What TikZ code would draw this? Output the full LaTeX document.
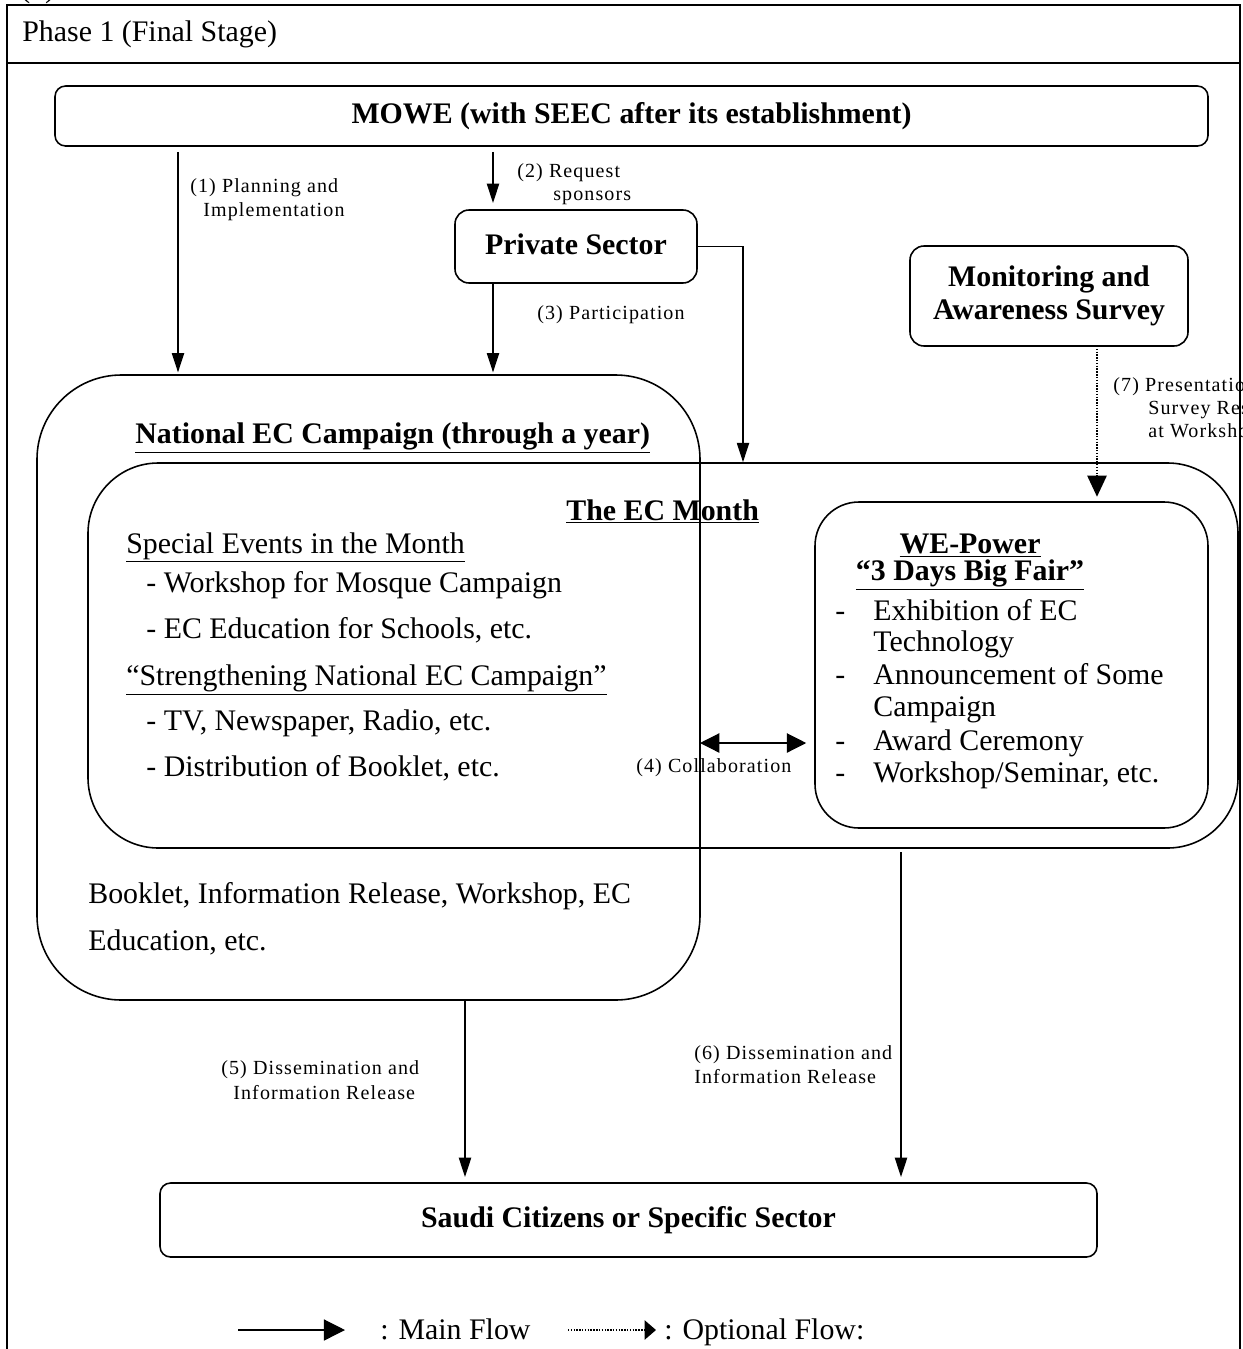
\documentclass[tikz,border=0pt]{standalone}
\usepackage{fontspec}
\setmainfont{Liberation Serif}
\newfontfamily\lblfont[LetterSpace=5.5]{Liberation Serif}
\usetikzlibrary{arrows.meta,fit}

\begin{document}
\begin{tikzpicture}[x=0.02cm,y=-0.02cm,
  txt/.style={anchor=base west,inner sep=0pt,font=\fontsize{17}{20}\selectfont},
  ttl/.style={anchor=base west,inner sep=0pt,font=\fontsize{17}{20}\selectfont\bfseries},
  lbl/.style={anchor=base west,inner sep=0pt,font=\lblfont\fontsize{11.4}{13}\selectfont},
  box/.style={draw,line width=0.9pt,inner sep=0pt,outer sep=0pt},
  boxtxt/.style={inner sep=0pt,font=\fontsize{17}{19}\selectfont\bfseries,align=center},
  flow/.style={line width=0.7pt,-{Triangle[length=11pt,width=7pt]}},
  twoway/.style={line width=0.7pt,{Triangle[length=11pt,width=11pt]}-{Triangle[length=11pt,width=11pt]}},
  dotline/.style={line width=0.9pt,dash pattern=on 0.8pt off 0.8pt},
  optflow/.style={dotline,-{Triangle[length=12pt,width=11pt]}},
  frameline/.style={line width=1.2pt}
]
\useasboundingbox (0,0) rectangle (1243,1349);
\clip (0,0) rectangle (1243,1349);

% page frame and header row
\node[txt] (prevnum) at (20,-3) {(3)};
\draw[frameline] (7,1400) -- (7,5) -- (1240,5) -- (1240,1400);
\draw[frameline] (7,63) -- (1240,63);
\node[txt] (phase) at (22,41) {Phase 1 (Final Stage)};

% main boxes
\node[box,rounded corners=6pt,fit={(55,86)(1208,146)}] (mowe) {};
\node[boxtxt] (mowet) at (mowe.center) {MOWE (with SEEC after its establishment)};
\node[box,rounded corners=8pt,fit={(455,210)(697,283)}] (ps) {};
\node[boxtxt] (pst) at ([yshift=1.5pt]ps.center) {Private Sector};
\node[box,rounded corners=8pt,fit={(910,246)(1188,346)}] (mon) {};
\node[boxtxt] (mont) at (mon.center) {Monitoring and\\Awareness Survey};
\node[box,rounded corners=48pt,fit={(37,375)(700,1000)}] (natl) {};
\node[box,rounded corners=40pt,fit={(88,463)(1238,848)}] (ecm) {};
\node[box,rounded corners=25pt,fit={(815,502)(1208,828)}] (we) {};
\node[box,rounded corners=6pt,fit={(160,1183)(1097,1257)}] (saudi) {};
\node[boxtxt] (saudit) at (saudi.center) {Saudi Citizens or Specific Sector};

% national campaign contents
\node[ttl] (natlt) at (135,443) {\underline{National EC Campaign (through a year)}};
\node[txt] (yr1) at (88,903) {Booklet, Information Release, Workshop, EC};
\node[txt] (yr2) at (88,950) {Education, etc.};

% EC month contents
\node[ttl] (ecmt) at (566,520) {\underline{The EC Month}};
\node[txt] (sp) at (126,553) {\underline{Special Events in the Month}};
\node[txt] (sp1) at (146,592) {- Workshop for Mosque Campaign};
\node[txt] (sp2) at (146,638) {- EC Education for Schools, etc.};
\node[txt] (st) at (126,685) {\underline{“Strengthening National EC Campaign”}};
\node[txt] (st1) at (146,730) {- TV, Newspaper, Radio, etc.};
\node[txt] (st2) at (146,776) {- Distribution of Booklet, etc.};

% WE-Power fair contents
\node[ttl,anchor=base] (wet1) at (970,553) {\underline{WE-Power}};
\node[ttl,anchor=base] (wet2) at (970,580) {\underline{“3 Days Big Fair”}};
\node[txt] (wd1) at (835,620) {-};
\node[txt] (wi1) at (873,620) {Exhibition of EC};
\node[txt] (wi1b) at (873,651) {Technology};
\node[txt] (wd2) at (835,684) {-};
\node[txt] (wi2) at (873,684) {Announcement of Some};
\node[txt] (wi2b) at (873,716) {Campaign};
\node[txt] (wd3) at (835,750) {-};
\node[txt] (wi3) at (873,750) {Award Ceremony};
\node[txt] (wd4) at (835,782) {-};
\node[txt] (wi4) at (873,782) {Workshop/Seminar, etc.};

% connector positions
\coordinate (x1) at (178,0);
\coordinate (x2) at (493,0);
\coordinate (x4) at (743,0);
\coordinate (x7) at (1097,0);
\coordinate (y8) at (0,743);
\coordinate (x5) at (465,0);
\coordinate (x6) at (901,0);

% connectors
\draw[flow,shorten <=3.4pt,shorten >=1.5pt] (mowe.south -| x1) -- (natl.north -| x1);
\draw[flow,shorten <=3.4pt,shorten >=4pt] (mowe.south -| x2) -- (ps.north -| x2);
\draw[flow,shorten >=1.5pt] (ps.south -| x2) -- (natl.north -| x2);
\draw[flow,shorten >=0.5pt] (ps.east) -| (ecm.north -| x4);
\draw[optflow,shorten >=3pt] (mon.south -| x7) -- (we.north -| x7);
\draw[twoway,shorten >=5pt] (natl.east |- y8) -- (we.west |- y8);
\draw[flow,shorten >=3.4pt] (natl.south -| x5) -- (saudi.north -| x5);
\draw[flow,shorten <=2.3pt,shorten >=3.4pt] (ecm.south -| x6) -- (saudi.north -| x6);

% connector labels
\node[lbl] (l1a) at (190,192) {(1) Planning and};
\node[lbl] (l1b) at (203,216) {Implementation};
\node[lbl] (l2a) at (517,177) {(2) Request};
\node[lbl] (l2b) at (553,200) {sponsors};
\node[lbl] (l3) at (537,319) {(3) Participation};
\node[lbl] (l4) at (636,772) {(4) Collaboration};
\node[lbl] (l7a) at (1113,391) {(7) Presentation of};
\node[lbl] (l7b) at (1148,414) {Survey Results};
\node[lbl] (l7c) at (1148,437) {at Workshop};
\node[lbl] (l5a) at (221,1074) {(5) Dissemination and};
\node[lbl] (l5b) at (233,1099) {Information Release};
\node[lbl] (l6a) at (694,1059) {(6) Dissemination and};
\node[lbl] (l6b) at (694,1083) {Information Release};

% legend
\coordinate (lga) at (238,1330);
\coordinate (lgb) at (345,1330);
\coordinate (lgc) at (568,1330);
\coordinate (lgd) at (656,1330);
\draw[line width=0.7pt,-{Triangle[length=12pt,width=12pt]}] (lga) -- (lgb);
\node[txt] (lgmain) at (380,1339) {: Main Flow};
\draw[dotline,-{Triangle[length=6.5pt,width=11pt]}] (lgc) -- (lgd);
\node[txt] (lgopt) at (664,1339) {: Optional Flow:};
\end{tikzpicture}
\end{document}
